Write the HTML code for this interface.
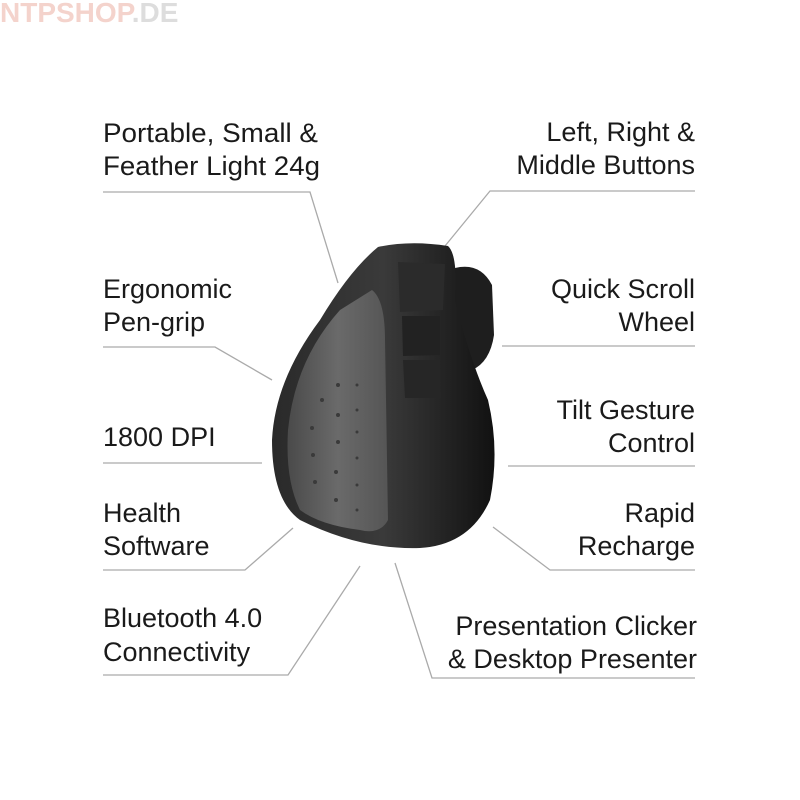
<!DOCTYPE html>
<html><head><meta charset="utf-8"><style>
html,body{margin:0;padding:0;background:#fff;width:800px;height:800px;overflow:hidden}
text{font-family:"Liberation Sans",Arial,Helvetica,sans-serif;font-size:27px;fill:#1a1a1a}
</style></head><body>
<svg width="800" height="800" viewBox="0 0 800 800" xmlns="http://www.w3.org/2000/svg">
<defs>
<linearGradient id="g1" x1="0" y1="0" x2="1" y2="0">
<stop offset="0" stop-color="#2a2a2a"/><stop offset="0.5" stop-color="#3a3a3a"/><stop offset="1" stop-color="#111"/>
</linearGradient>
<linearGradient id="g2" x1="0" y1="0" x2="1" y2="0">
<stop offset="0" stop-color="#4a4a4a"/><stop offset="0.5" stop-color="#6a6a6a"/><stop offset="1" stop-color="#555"/>
</linearGradient>
</defs>
<text x="0" y="22" style="font-size:28px;font-weight:bold;fill:#f4d3cc">NTPSHOP<tspan style="fill:#ddd">.DE</tspan></text>
<g stroke="#aaa" stroke-width="1.3" fill="none">
<polyline points="103,192 310,192 338,283"/>
<polyline points="695,191 490,191 445,246"/>
<polyline points="103,347 215,347 272,380"/>
<polyline points="695,346 502,346"/>
<polyline points="103,463 262,463"/>
<polyline points="695,466 508,466"/>
<polyline points="103,570 245,570 293,528"/>
<polyline points="695,570 550,570 493,527"/>
<polyline points="103,675 288,675 360,566"/>
<polyline points="695,678 432,678 395,563"/>
</g>
<path d="M455,268 Q480,262 492,285 L494,335 Q490,362 472,370 L455,360 Z" fill="#1e1e1e"/>
<path d="M378,247 Q410,240 448,246 Q458,255 455,300 Q470,360 488,400 Q500,450 490,500 Q470,545 420,548 Q360,550 300,520 Q272,500 272,440 Q275,380 320,320 Q350,270 378,247 Z" fill="url(#g1)"/>
<path d="M372,290 Q385,300 385,340 L388,520 Q380,535 360,530 Q320,525 300,510 Q285,480 288,430 Q295,360 340,310 Z" fill="url(#g2)"/>
<path d="M398,262 L445,264 L443,310 L400,312 Z" fill="#2b2b2b"/>
<path d="M402,316 L440,316 L440,355 L403,356 Z" fill="#222"/>
<path d="M403,360 L440,360 L441,398 L405,398 Z" fill="#262626"/>
<g fill="#3a3a3a">
<circle cx="338" cy="385" r="2"/><circle cx="322" cy="400" r="2"/><circle cx="338" cy="415" r="2"/><circle cx="312" cy="428" r="2"/><circle cx="338" cy="442" r="2"/><circle cx="313" cy="455" r="2"/><circle cx="336" cy="472" r="2"/><circle cx="315" cy="482" r="2"/><circle cx="336" cy="500" r="2"/>
<circle cx="357" cy="385" r="1.5"/><circle cx="357" cy="410" r="1.5"/><circle cx="357" cy="432" r="1.5"/><circle cx="357" cy="458" r="1.5"/><circle cx="357" cy="485" r="1.5"/><circle cx="357" cy="510" r="1.5"/>
</g>
<text x="103" y="142" textLength="215" lengthAdjust="spacingAndGlyphs">Portable, Small &amp;</text>
<text x="103" y="175" textLength="217" lengthAdjust="spacingAndGlyphs">Feather Light 24g</text>
<text x="695" y="141" text-anchor="end">Left, Right &amp;</text>
<text x="695" y="174" text-anchor="end">Middle Buttons</text>
<text x="103" y="298">Ergonomic</text>
<text x="103" y="331">Pen-grip</text>
<text x="695" y="298" text-anchor="end">Quick Scroll</text>
<text x="695" y="331" text-anchor="end">Wheel</text>
<text x="103" y="446">1800 DPI</text>
<text x="695" y="419" text-anchor="end">Tilt Gesture</text>
<text x="695" y="452" text-anchor="end">Control</text>
<text x="103" y="522">Health</text>
<text x="103" y="555">Software</text>
<text x="695" y="522" text-anchor="end">Rapid</text>
<text x="695" y="555" text-anchor="end">Recharge</text>
<text x="103" y="627">Bluetooth 4.0</text>
<text x="103" y="661">Connectivity</text>
<text x="697" y="635" text-anchor="end">Presentation Clicker</text>
<text x="697" y="668" text-anchor="end">&amp; Desktop Presenter</text>
</svg>
</body></html>
